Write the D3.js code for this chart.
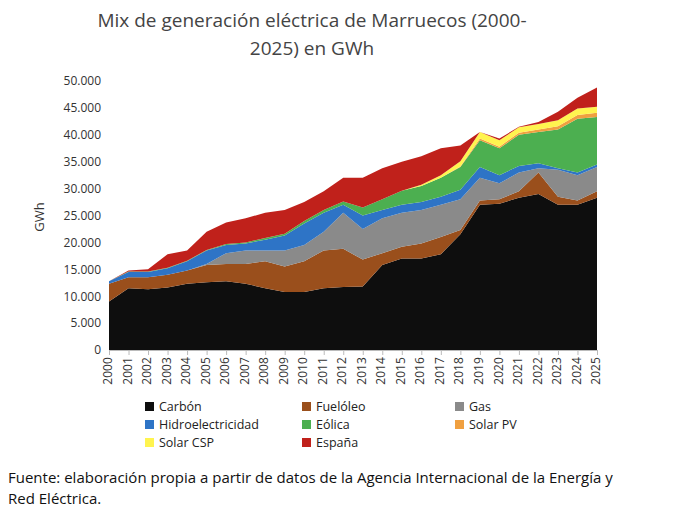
<!DOCTYPE html><html><head><meta charset="utf-8"><script src="https://cdn.jsdelivr.net/npm/d3@7"></script>
<style>body{margin:0;background:#fff;font-family:"Open Sans",sans-serif}</style></head><body><svg id="c" width="700" height="518"></svg>
<script>
const years=d3.range(2000,2026);
const carbon=[9,11.5,11.3,11.6,12.3,12.6,12.8,12.3,11.5,10.8,10.8,11.5,11.7,11.8,15.8,17,17,17.8,21.5,27,27.2,28.3,29,27,27,28.3];
const fuel=[3.3,2,2.2,2.4,2.5,3.2,3.2,3.7,5,4.7,5.7,7,7.1,5,2.2,2.2,2.8,3.2,0.8,0.8,0.8,1.2,4,1.5,0.8,1.2];
const gas=[0,0,0,0,0,0.2,2,2.5,2,3,3,3.5,6.7,5.7,6.5,6.3,6.2,6,5.7,4.2,3,3.5,0.8,5,4.7,4.5];
const hydro=[0.5,1,1,1.2,1.7,2.5,1.5,1.3,2,2.8,4,3.5,1.5,2.5,1.5,1.5,1.5,1.5,1.8,2,1.5,1.2,0.9,0.3,0.5,0.5];
const eolica=[0,0.1,0.1,0.1,0.1,0.1,0.2,0.2,0.3,0.3,0.5,0.5,0.6,1.5,2,2.6,3,3.5,4.2,5,5,5.8,5.8,7.2,10,8.8];
const pv=[0,0,0,0,0,0,0,0,0,0,0,0,0,0,0,0,0,0,0.1,0.3,0.3,0.4,0.5,0.6,0.7,0.8];
const csp=[0,0,0,0,0,0,0,0,0,0,0,0,0,0,0,0,0.2,0.5,1,1.2,1.2,1,1,1.1,1.2,1.1];
const espana=[0,0.2,0.4,2.5,1.9,3.4,4,4.5,4.7,4.4,3.5,3.5,4.4,5.5,5.8,5.4,5.3,5,2.9,0,0.3,0.1,0.4,1.6,2,3.6];
const names=["Carbón","Fuelóleo","Gas","Hidroelectricidad","Eólica","Solar PV","Solar CSP","España"];
const colors=["#0e0e0e","#9a4f1c","#8a8a8a","#2e74c6","#4caf50","#f0a040","#fff44f","#c0211b"];
const series=[carbon,fuel,gas,hydro,eolica,pv,csp,espana];
const yTicks=d3.range(0,50001,5000);
const data=years.map((y,i)=>{const o={year:y};names.forEach((n,k)=>o[n]=series[k][i]*1000);return o;});
const svg=d3.select("#c");
const x=d3.scaleLinear().domain([2000,2025]).range([109,597]);
const y=d3.scaleLinear().domain([0,50000]).range([350,81]);
const stack=d3.stack().keys(names)(data);
const area=d3.area().x(d=>x(d.data.year)).y0(d=>y(d[0])).y1(d=>y(d[1]));
svg.selectAll(".a").data(stack).join("path").attr("d",area).attr("fill",(d,i)=>colors[i]);
const fmt=v=>d3.format(",")(v).replace(/,/g,".");
svg.append("g").attr("transform","translate(109,0)").call(d3.axisLeft(y).tickValues(yTicks).tickFormat(fmt).tickSize(0).tickPadding(8))
 .call(g=>{g.select(".domain").remove();g.selectAll("text").attr("font-size",12).attr("fill","#333").attr("font-family","Open Sans");});
const xa=svg.append("g").attr("transform","translate(0,350)").call(d3.axisBottom(x).tickValues(years).tickFormat(d3.format("d")).tickSize(5));
xa.select(".domain").attr("stroke","#bbb");xa.selectAll("line").attr("stroke","#bbb");
xa.selectAll("text").attr("transform","rotate(-90)").attr("text-anchor","end").attr("dx","-0.6em").attr("dy","-0.45em").attr("font-size",12).attr("fill","#333").attr("font-family","Open Sans");
svg.append("text").attr("transform","translate(44,217) rotate(-90)").attr("text-anchor","middle").attr("font-size",13).attr("fill","#333").text("GWh");
svg.append("text").attr("x",312).attr("y",27).attr("text-anchor","middle").attr("font-size",19).attr("fill","#444").text("Mix de generación eléctrica de Marruecos (2000-");
svg.append("text").attr("x",312).attr("y",55).attr("text-anchor","middle").attr("font-size",19).attr("fill","#444").text("2025) en GWh");
const lg=svg.append("g");
names.forEach((n,i)=>{const cx=[145,302,455][i%3],cy=410+Math.floor(i/3)*18;
 lg.append("rect").attr("x",cx).attr("y",cy-8).attr("width",9).attr("height",9).attr("fill",colors[i]);
 lg.append("text").attr("x",cx+14).attr("y",cy+1).attr("font-size",12.5).attr("fill","#222").text(n);});
svg.append("text").attr("x",8).attr("y",483).attr("font-size",15).attr("fill","#111").text("Fuente: elaboración propia a partir de datos de la Agencia Internacional de la Energía y");
svg.append("text").attr("x",8).attr("y",504).attr("font-size",15).attr("fill","#111").text("Red Eléctrica.");
</script></body></html>
